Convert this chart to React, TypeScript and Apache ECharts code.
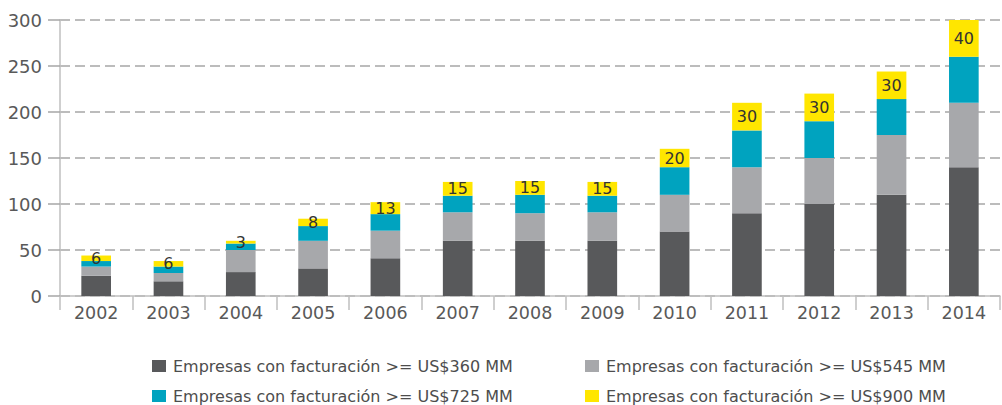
import React, { useEffect, useRef } from "react";
import * as echarts from "echarts";

const years = ["2002", "2003", "2004", "2005", "2006", "2007", "2008", "2009", "2010", "2011", "2012", "2013", "2014"];
const s360 = [22, 16, 26, 30, 41, 60, 60, 60, 70, 90, 100, 110, 140];
const s545 = [10, 9, 24, 30, 30, 31, 30, 31, 40, 50, 50, 65, 70];
const s725 = [6, 7, 7, 16, 18, 18, 20, 18, 30, 40, 40, 39, 50];
const s900 = [6, 6, 3, 8, 13, 15, 15, 15, 20, 30, 30, 30, 40];
const seriesNames = [
  "Empresas con facturación >= US$360 MM",
  "Empresas con facturación >= US$545 MM",
  "Empresas con facturación >= US$725 MM",
  "Empresas con facturación >= US$900 MM",
];
const colors = ["#58595b", "#a7a8ab", "#00a3bf", "#ffe600"];
const yTicks = [0, 50, 100, 150, 200, 250, 300];

const FONT = "'DejaVu Sans', sans-serif";

export default function App() {
  const ref = useRef<HTMLDivElement>(null);
  useEffect(() => {
    if (!ref.current) return;
    const chart = echarts.init(ref.current, null, { renderer: "svg" });
    const values = [s360, s545, s725, s900];
    const legendPos = [
      { left: 152, top: 358 },
      { left: 585, top: 358 },
      { left: 152, top: 388 },
      { left: 585, top: 388 },
    ];
    chart.setOption({
      animation: false,
      textStyle: { fontFamily: FONT },
      grid: { left: 60, right: 2, top: 20, bottom: 109, containLabel: false },
      legend: seriesNames.map((n, i) => ({
        data: [n],
        left: legendPos[i].left,
        top: legendPos[i].top,
        itemWidth: 14,
        itemHeight: 12,
        itemGap: 0,
        padding: 0,
        icon: "rect",
        selectedMode: false,
        textStyle: { fontFamily: FONT, fontSize: 16, color: "#4d4d4d", padding: [0, 0, 0, 2] },
      })),
      xAxis: {
        type: "category",
        data: years,
        axisLine: { show: true, lineStyle: { color: "#bfbfbf", width: 1.5 } },
        axisTick: { show: true, length: 14, alignWithLabel: false, lineStyle: { color: "#bfbfbf", width: 1.5 } },
        axisLabel: { color: "#595959", fontSize: 17.5, fontFamily: FONT, margin: 8 },
      },
      yAxis: {
        type: "value",
        min: 0,
        max: yTicks[yTicks.length - 1],
        interval: 50,
        axisLine: { show: true, lineStyle: { color: "#bfbfbf", width: 1.5 } },
        axisTick: { show: true, length: 12, lineStyle: { color: "#a6a6a6", width: 1.5 } },
        axisLabel: { color: "#595959", fontSize: 18, fontFamily: FONT, margin: 18 },
        splitLine: { show: true, lineStyle: { color: "#a6a6a6", type: [10, 5], width: 1.5 } },
      },
      series: values.map((v, i) => ({
        name: seriesNames[i],
        type: "bar",
        stack: "total",
        data: v,
        barWidth: "41%",
        itemStyle: { color: colors[i] },
        label:
          i === 3
            ? { show: true, position: "inside", color: "#333333", fontSize: 16, fontFamily: FONT }
            : { show: false },
      })),
    });
    return () => chart.dispose();
  }, []);
  return <div ref={ref} style={{ width: 1002, height: 405, position: "absolute", left: 0, top: 0, background: "#fff" }} />;
}
